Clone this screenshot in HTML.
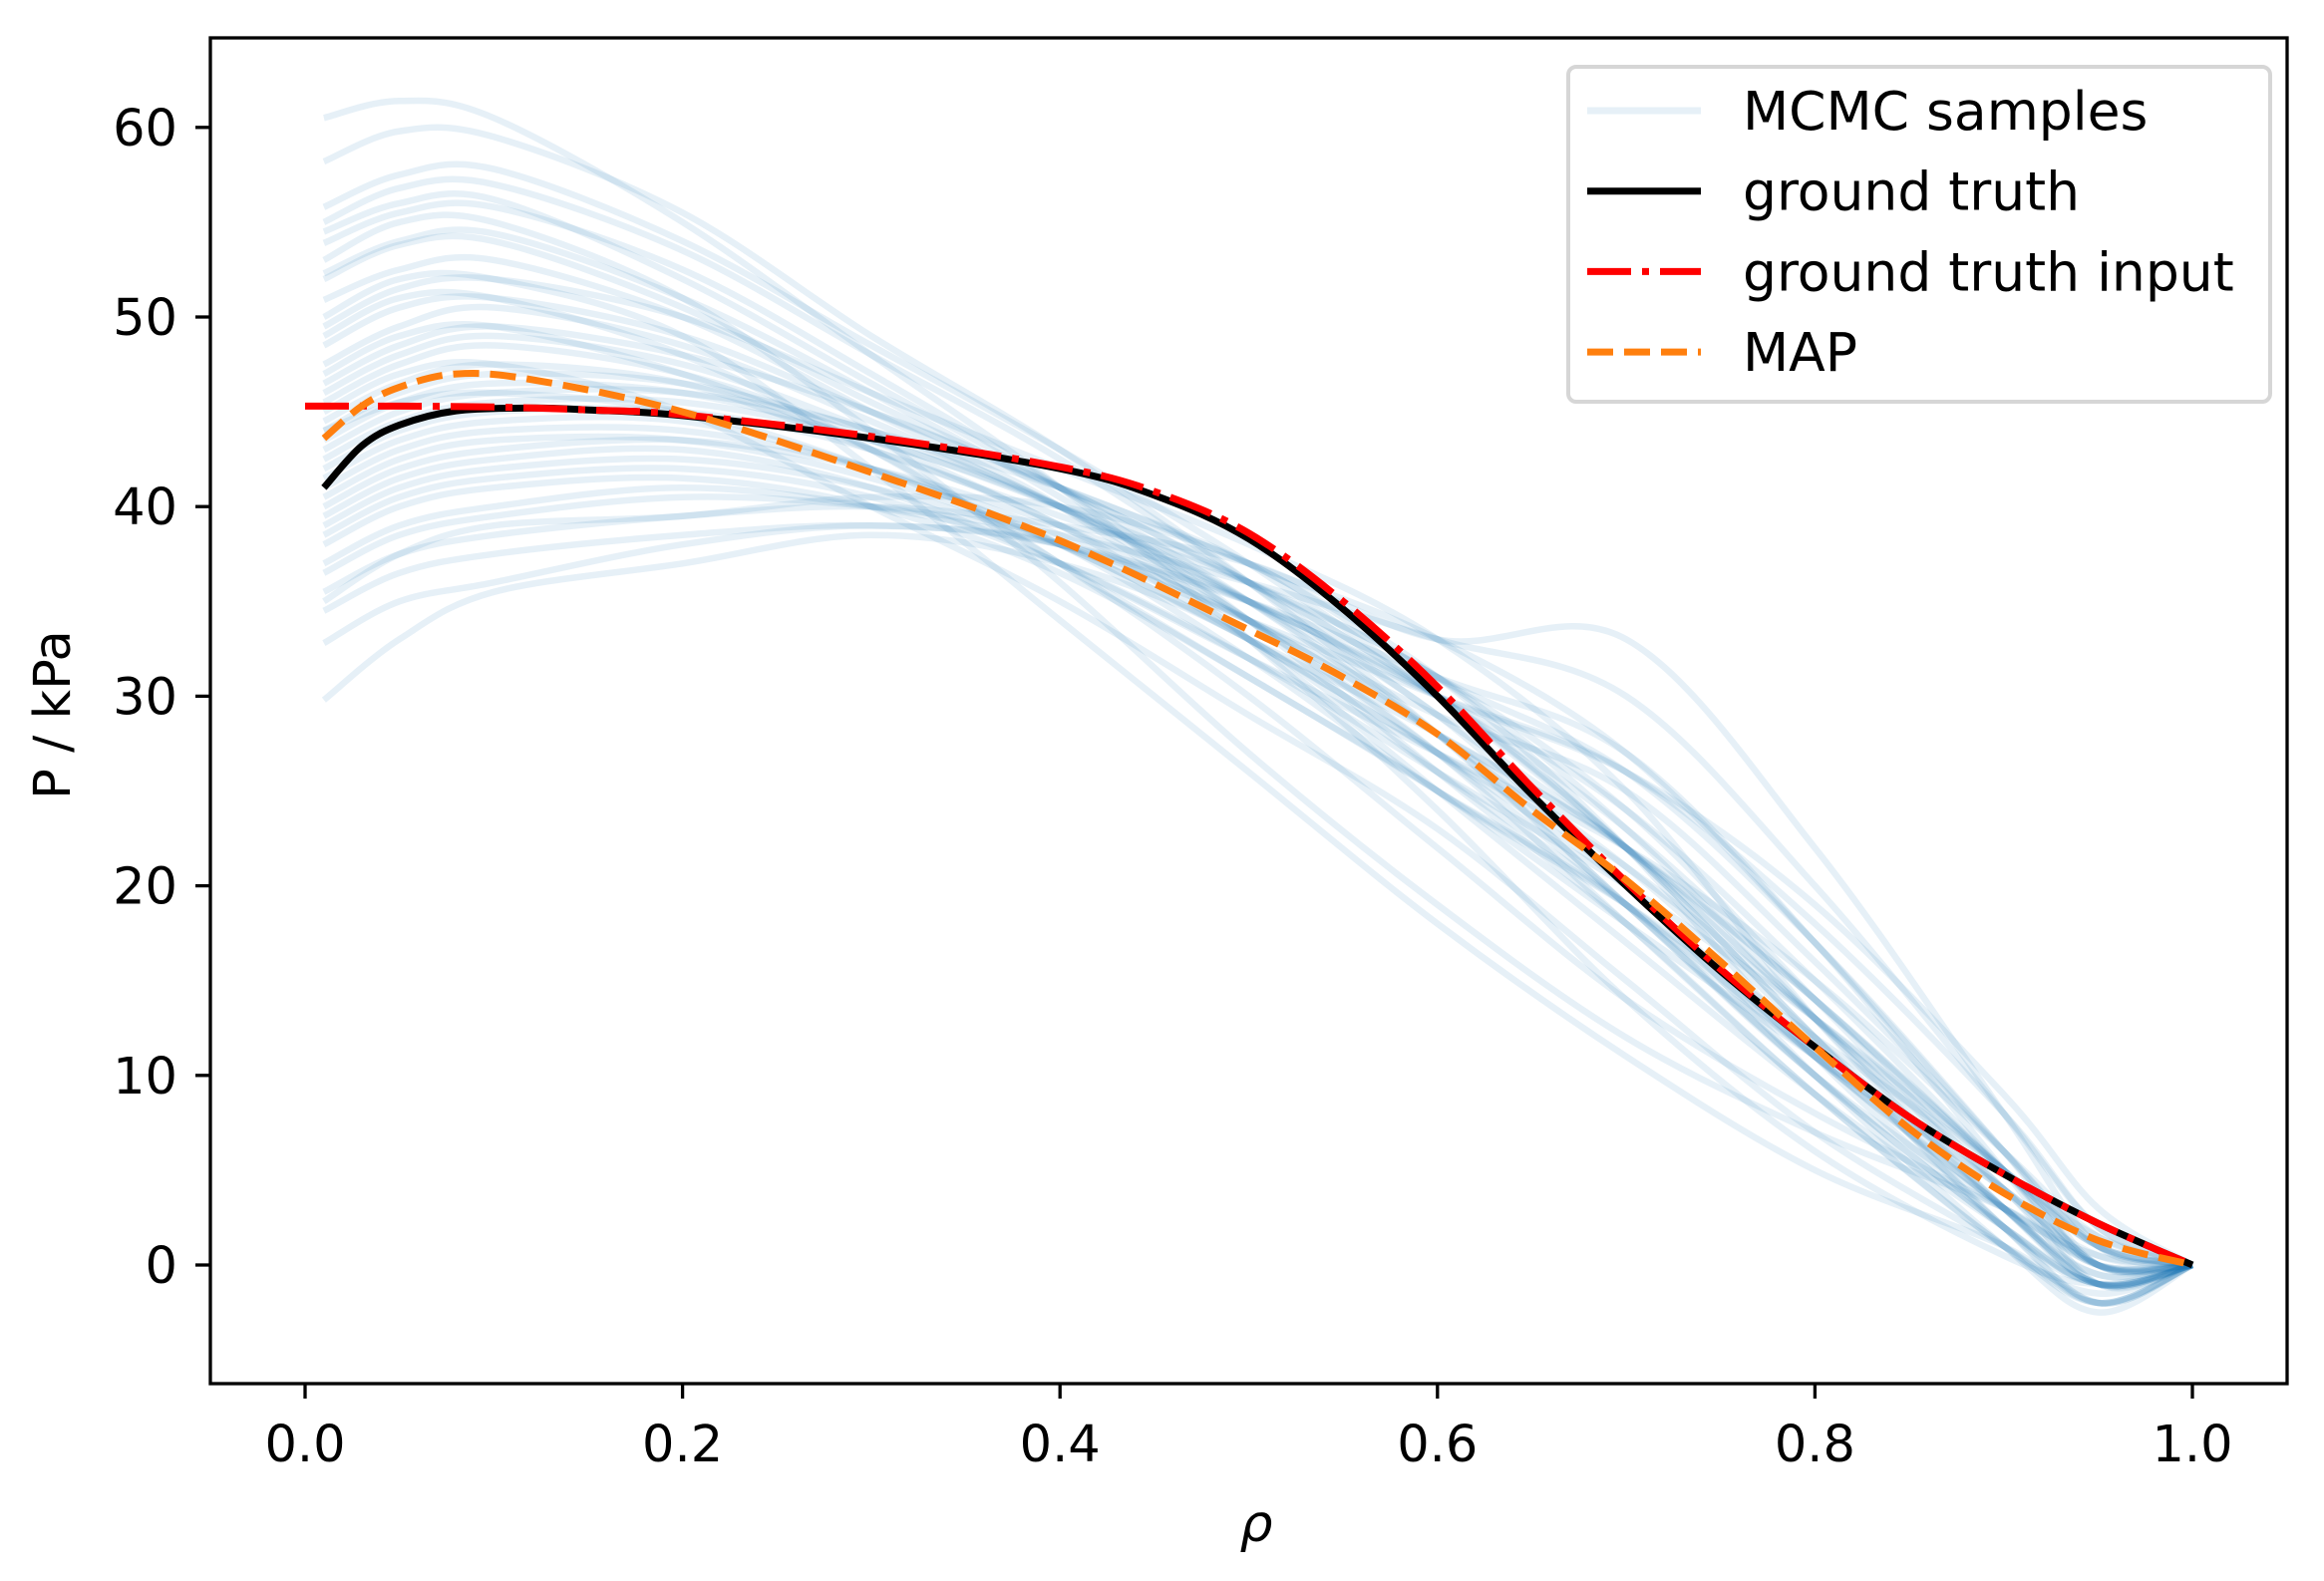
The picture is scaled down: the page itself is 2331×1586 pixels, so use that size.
<!DOCTYPE html>
<html><head><meta charset="utf-8"><style>
html,body{margin:0;padding:0;background:#fff}
svg text{font-family:"DejaVu Sans","Liberation Sans",sans-serif}
</style></head><body>
<svg id="chart" width="2331" height="1581" viewBox="0 0 2331 1581" xmlns="http://www.w3.org/2000/svg">
<rect width="2331" height="1581" fill="#fff"/>
<g id="samples"></g>
<g id="main"></g>
<g id="axes"></g>
<g id="legend"></g>
</svg>
<script>
const xTicks = [0.0, 0.2, 0.4, 0.6, 0.8, 1.0];
const xTickLabels = ["0.0", "0.2", "0.4", "0.6", "0.8", "1.0"];
const yTicks = [0, 10, 20, 30, 40, 50, 60];
const yTickLabels = ["0", "10", "20", "30", "40", "50", "60"];
const sampleRho = [0.01,0.05,0.1,0.2,0.3,0.4,0.5,0.6,0.7,0.8,0.9,0.95,1.0];
const samples = [
[60.5,61.4,60.5,55,48,41,33,24,14,6,0.5,-1,0],
[58.2,59.8,59.5,55.5,49,43,36,28,19,10,3,0.5,0],
[55.8,57.5,57.8,54,48.5,43,37,30,22,13,4,0.5,0],
[55,56.8,57,53.5,48,42.5,36,29,22,14,5,1,0],
[54.5,56,56.2,52,46.5,41,35,28,21,12,3,-1,0],
[53.9,55.5,55.8,52.5,47,41,34,26,18,9,1,-1.5,0],
[52.3,54,54.4,51,46,40.5,34,27,19,10,2,-1,0],
[52,53.8,54,50.5,45.5,41,36,30,22,12,2,-1,0],
[50.9,52.5,53,50,45,40,33,25,17,9,2,-1,0],
[49.5,51.5,52,50,46,42,38,33,25,13,3,-0.5,0],
[48.5,50.5,51,49,45,41,36,31,23,13,3,-1,0],
[47.5,49.5,50.5,48.5,44.5,40,35,30,22,12,2,-2,0],
[46.5,48.5,49.5,48,45,41,37,31,22,11,2,-2,0],
[46,48,49,47.5,44,40,35,29,20,11,3,-0.5,0],
[45.5,47.5,48.5,47,43.5,39,34,28,20,10,1,-2.5,0],
[44.5,46.5,47.5,46.5,43,39.5,36,31,24,14,4,0,0],
[44,46,47,46.5,44,41,37,33,27,17,6,1,0],
[43.5,45.5,46.5,46,43.5,40,35,28,19,10,2,-1,0],
[43,45,46,46,44,40,34,27,18,9,1,-2,0],
[42.5,44.5,45.5,45.5,43.5,40,36,30,23,14,5,1,0],
[42,44,45,45,43,39,33,27,20,11,3,-1,0],
[41.5,43.5,44.5,44.5,42,38,33,27,21,13,5,1.5,0],
[41,43,44,44,42,38.5,34,29,25,16,6,1,0],
[40.5,42.5,43.5,43.5,41.5,38,33,28,22,14,5,0,0],
[40,42,43,43.5,42,39,35,30,24,15,5,0,0],
[39.5,41.5,42.5,43,41,37,32,27,22,15,6,1.5,0],
[39,41,42,42.5,41,38,34,30,26,18,8,2,0],
[38.5,40.5,41.5,42,40.5,37,32,26,20,13,5,0,0],
[38,40,41,41.5,40,36.5,31,25,19,11,3,-1,0],
[37,39,40,41,40,38,35,31,27,17,5,-1,0],
[36.5,38.5,39.5,40.5,40,38.5,36,33,30,20,8,2,0],
[35.5,37.5,38.5,39.5,40,39,37,33,33,22,8,1,0],
[35,37.5,39,39.5,40.5,40,37,31,26,17,6,0,0],
[34.5,36.5,37.5,38.5,39,38,34,28,22,13,4,-1,0],
[32.8,35,36,38,39,38,35,30,26,19,9,3,0],
[29.8,33,35.5,37,38.5,37,33,26,19,11,4,0,0],
[47,49,49.5,47,43,37,30,22,14,8,3,0,0],
[45,47,47.5,45,40,35,29,23,15,7,1,-2,0],
[49,51,51,48,43,37,31,25,18,11,4,0,0],
[44,45.5,46,45,42,38,32,25,19,12,5,1,0],
[50,52,52,49,42,34,26,18,11,5,1,-2,0],
[53,55,55,51,44,36,27,19,12,7,3,0,0]
];
const truthRho = [0.01,0.03,0.05,0.08,0.12,0.15,0.2,0.3,0.4,0.45,0.5,0.55,0.6,0.65,0.7,0.75,0.8,0.85,0.9,0.95,1.0];
const truthP = [41,43.2,44.3,45.05,45.2,45.1,44.8,43.6,42,40.6,38.3,34.6,30,24.8,20,15.5,11.5,7.8,4.8,2.2,0];
const inputRho = [0.0,0.05,0.1,0.15,0.2,0.3,0.4,0.45,0.5,0.55,0.6,0.65,0.7,0.75,0.8,0.85,0.9,0.95,1.0];
const inputP = [45.3,45.3,45.25,45.1,44.85,43.7,42.1,40.8,38.6,35,30.5,25.2,20.2,15.6,11.5,7.8,4.8,2.2,0];
const mapRho = [0.01,0.03,0.05,0.08,0.12,0.2,0.3,0.4,0.5,0.55,0.6,0.65,0.7,0.75,0.8,0.85,0.9,0.95,1.0];
const mapP = [43.6,45.3,46.3,47,46.7,45,41.8,38.2,33.5,31,28,24,20.3,16,11.5,7.2,3.8,1.3,0];

const X0 = 306, X1 = 2199, Y0 = 1269, PX10 = 190.2;
function sx(v){ return X0 + (X1 - X0) * v; }
function sy(v){ return Y0 - PX10 * v / 10; }
const NS = "http://www.w3.org/2000/svg";
function mk(tag, attrs, parent){
  const e = document.createElementNS(NS, tag);
  for (const k in attrs) e.setAttribute(k, attrs[k]);
  parent.appendChild(e); return e;
}
function pathFor(xs, ys){
  const p = xs.map((x,i)=>[sx(x), sy(ys[i])]);
  let d = "M" + p[0][0].toFixed(1) + "," + p[0][1].toFixed(1);
  for (let i = 0; i < p.length - 1; i++){
    const a = p[Math.max(i-1,0)], b = p[i], c = p[i+1], e = p[Math.min(i+2,p.length-1)];
    const c1x = b[0] + (c[0]-a[0])/6, c1y = b[1] + (c[1]-a[1])/6;
    const c2x = c[0] - (e[0]-b[0])/6, c2y = c[1] - (e[1]-b[1])/6;
    d += " C" + c1x.toFixed(1)+","+c1y.toFixed(1)+" "+c2x.toFixed(1)+","+c2y.toFixed(1)+" "+c[0].toFixed(1)+","+c[1].toFixed(1);
  }
  return d;
}
const gS = document.getElementById("samples");
samples.forEach((s, i) => {
  const el = mk("path", {d: pathFor(sampleRho, s), fill: "none", stroke: "#1f77b4", "stroke-opacity": "0.11", "stroke-width": "6.5"}, gS);
  
  
});
const gM = document.getElementById("main");
let el;
el = mk("path", {d: pathFor(truthRho, truthP), fill: "none", stroke: "#000", "stroke-width": "7"}, gM);


el = mk("path", {d: pathFor(inputRho, inputP), fill: "none", stroke: "#ff0000", "stroke-width": "7", "stroke-dasharray": "44 11 7 11"}, gM);


el = mk("path", {d: pathFor(mapRho, mapP), fill: "none", stroke: "#ff7f0e", "stroke-width": "7", "stroke-dasharray": "26 11"}, gM);



const gA = document.getElementById("axes");
el = mk("rect", {x: 211, y: 38, width: 2083, height: 1350, fill: "none", stroke: "#000", "stroke-width": "3.3"}, gA);


xTicks.forEach((t, i) => {
  const x = sx(t);
  const tk = mk("line", {x1: x, x2: x, y1: 1388, y2: 1403, stroke: "#000", "stroke-width": "3.3"}, gA);
  
  
  const lb = mk("text", {x: x, y: 1466, "font-size": "51", "text-anchor": "middle", fill: "#000"}, gA);
  lb.textContent = xTickLabels[i];
  
  
});
yTicks.forEach((t, i) => {
  const y = sy(t);
  const tk = mk("line", {x1: 196, x2: 211, y1: y, y2: y, stroke: "#000", "stroke-width": "3.3"}, gA);
  
  
  const lb = mk("text", {x: 178, y: y + 18, "font-size": "51", "text-anchor": "end", fill: "#000"}, gA);
  lb.textContent = yTickLabels[i];
  
  
});
el = mk("text", {x: 1260, y: 1546, "font-size": "52", "font-style": "italic", "text-anchor": "middle", fill: "#000"}, gA);
el.textContent = "ρ";


el = mk("text", {x: 0, y: 0, "font-size": "51", "text-anchor": "middle", fill: "#000", transform: "translate(70,717) rotate(-90)"}, gA);
el.textContent = "P / kPa";



const gL = document.getElementById("legend");
el = mk("rect", {x: 1573, y: 67, width: 704, height: 336, rx: 8, fill: "#fff", "fill-opacity": "0.8", stroke: "#d6d6d6", "stroke-width": "4"}, gL);


const legItems = [
  {label: "MCMC samples", color: "#1f77b4", op: "0.11", dash: "none", name: "legend-entry-mcmc"},
  {label: "ground truth", color: "#000", op: "1", dash: "none", name: "legend-entry-ground-truth"},
  {label: "ground truth input", color: "#ff0000", op: "1", dash: "44 11 7 11", name: "legend-entry-ground-truth-input"},
  {label: "MAP", color: "#ff7f0e", op: "1", dash: "26 11", name: "legend-entry-map"}
];
legItems.forEach((it, i) => {
  const y = 111 + i * 80.7;
  const g = mk("g", {}, gL);
  
  
  mk("line", {x1: 1592, x2: 1706, y1: y, y2: y, stroke: it.color, "stroke-opacity": it.op, "stroke-width": "7", "stroke-dasharray": it.dash}, g);
  const t = mk("text", {x: 1748, y: y + 19, "font-size": "53.5", fill: "#000"}, g);
  t.textContent = it.label;
});
</script>
</body></html>
